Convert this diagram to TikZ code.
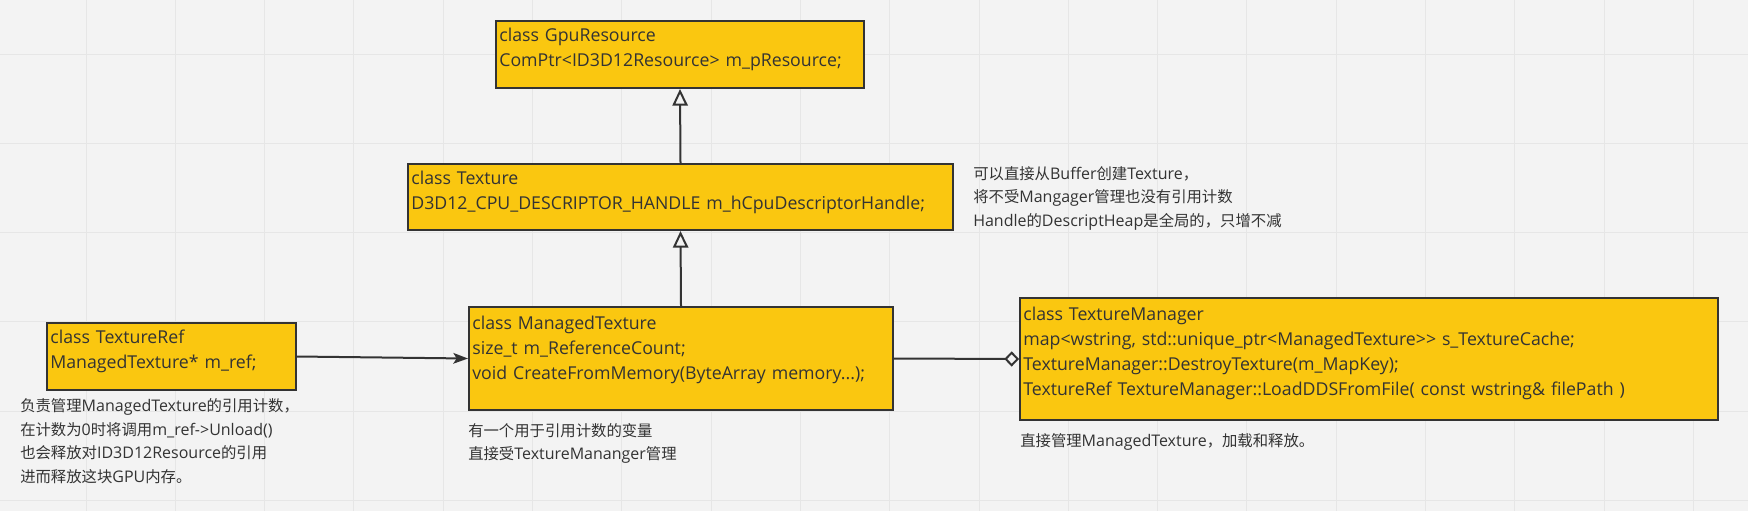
\documentclass[tikz,border=0pt]{standalone}
\usepackage{fontspec}
\setmainfont{Open Sans}
\newfontfamily\cjk{Noto Sans CJK SC}[Scale=0.96]
\usetikzlibrary{arrows.meta}

\definecolor{boardgray}{HTML}{F3F3F3}
\definecolor{gridgray}{HTML}{E6E6E6}
\definecolor{classyellow}{HTML}{FAC710}
\definecolor{inkgray}{HTML}{333333}
\newcommand{\zh}[1]{{\cjk #1}}

\tikzset{
    classbox/.style={draw=inkgray, fill=classyellow, line width=1.5pt, anchor=north west,
        align=left, inner xsep=2.5pt, inner ysep=0pt, text height=15pt, text=inkgray,
        font=\fontsize{13.3pt}{18.75pt}\selectfont},
    note/.style={anchor=base west, align=left, inner sep=0pt, text width=330pt, text=inkgray,
        font=\fontsize{12pt}{17.6pt}\selectfont},
    inherit/.style={draw=inkgray, line width=1.5pt, -{Triangle[open, length=12.5pt, width=11.5pt]}},
    uses/.style={draw=inkgray, line width=1.5pt, -{Stealth[length=11pt, width=8pt, inset=2.5pt]}},
    aggregate/.style={draw=inkgray, line width=1.5pt, -{Diamond[open, length=11pt, width=11.5pt]}}
}

\begin{document}
\begin{tikzpicture}[x=0.75pt, y=-0.75pt]
        \useasboundingbox[fill=boardgray] (0,0) rectangle (1748,511);
        % board grid
        \foreach \k in {0,...,18}
            \draw[gridgray, line width=0.75pt] (86+89.3*\k,0) -- (86+89.3*\k,511);
        \foreach \k in {0,...,5}
            \draw[gridgray, line width=0.75pt] (0,54+89.3*\k) -- (1748,54+89.3*\k);

        \node[classbox, text width=271pt, text depth=35.25pt] (gpu) at (495,20)
            {class GpuResource\\ComPtr<ID3D12Resource> m\_pResource;};
        \node[classbox, text width=403.75pt, text depth=34.5pt] (tex) at (407,163)
            {class Texture\\D3D12\_CPU\_DESCRIPTOR\_HANDLE m\_hCpuDescriptorHandle;};
        \node[classbox, text width=181.75pt, text depth=35.25pt] (ref) at (46,322)
            {class TextureRef\\ManagedTexture* m\_ref;};
        \node[classbox, text width=313pt, text height=17pt, text depth=60.25pt] (mt) at (468,306)
            {class ManagedTexture\\size\_t m\_ReferenceCount;\\void CreateFromMemory(ByteArray memory...);};
        \node[classbox, text width=518.5pt, text height=16.5pt, text depth=75pt] (mgr) at (1019,297)
            {class TextureManager\\map<wstring, std::unique\_ptr<ManagedTexture>{}> s\_TextureCache;\\TextureManager::DestroyTexture(m\_MapKey);\\TextureRef TextureManager::LoadDDSFromFile( const wstring\& filePath )};

        \node[note] (texnote) at (973,179.3)
            {\zh{可以直接从}Buffer\zh{创建}Texture\zh{，}\\\zh{将不受}Mangager\zh{管理也没有引用计数}\\Handle\zh{的}DescriptHeap\zh{是全局的，只增不减}};
        \node[note] (refnote) at (20,411.7)
            {\zh{负责管理}ManagedTexture\zh{的引用计数，}\\\zh{在计数为}0\zh{时将调用}m\_ref->Unload()\\\zh{也会释放对}ID3D12Resource\zh{的引用}\\\zh{进而释放这块}GPU\zh{内存。}};
        \node[note] (mtnote) at (468,436)
            {\zh{有一个用于引用计数的变量}\\\zh{直接受}TextureMananger\zh{管理}};
        \node[note] (mgrnote) at (1020,446.7)
            {\zh{直接管理}ManagedTexture\zh{，加载和释放。}};

        \draw[inherit] (tex.north) -- (gpu.south);
        \draw[inherit] (mt.north) -- (tex.south);
        \draw[uses] (ref.east) -- (mt.west);
        \draw[aggregate] (mt.east) -- (mgr.west);
\end{tikzpicture}
\end{document}
